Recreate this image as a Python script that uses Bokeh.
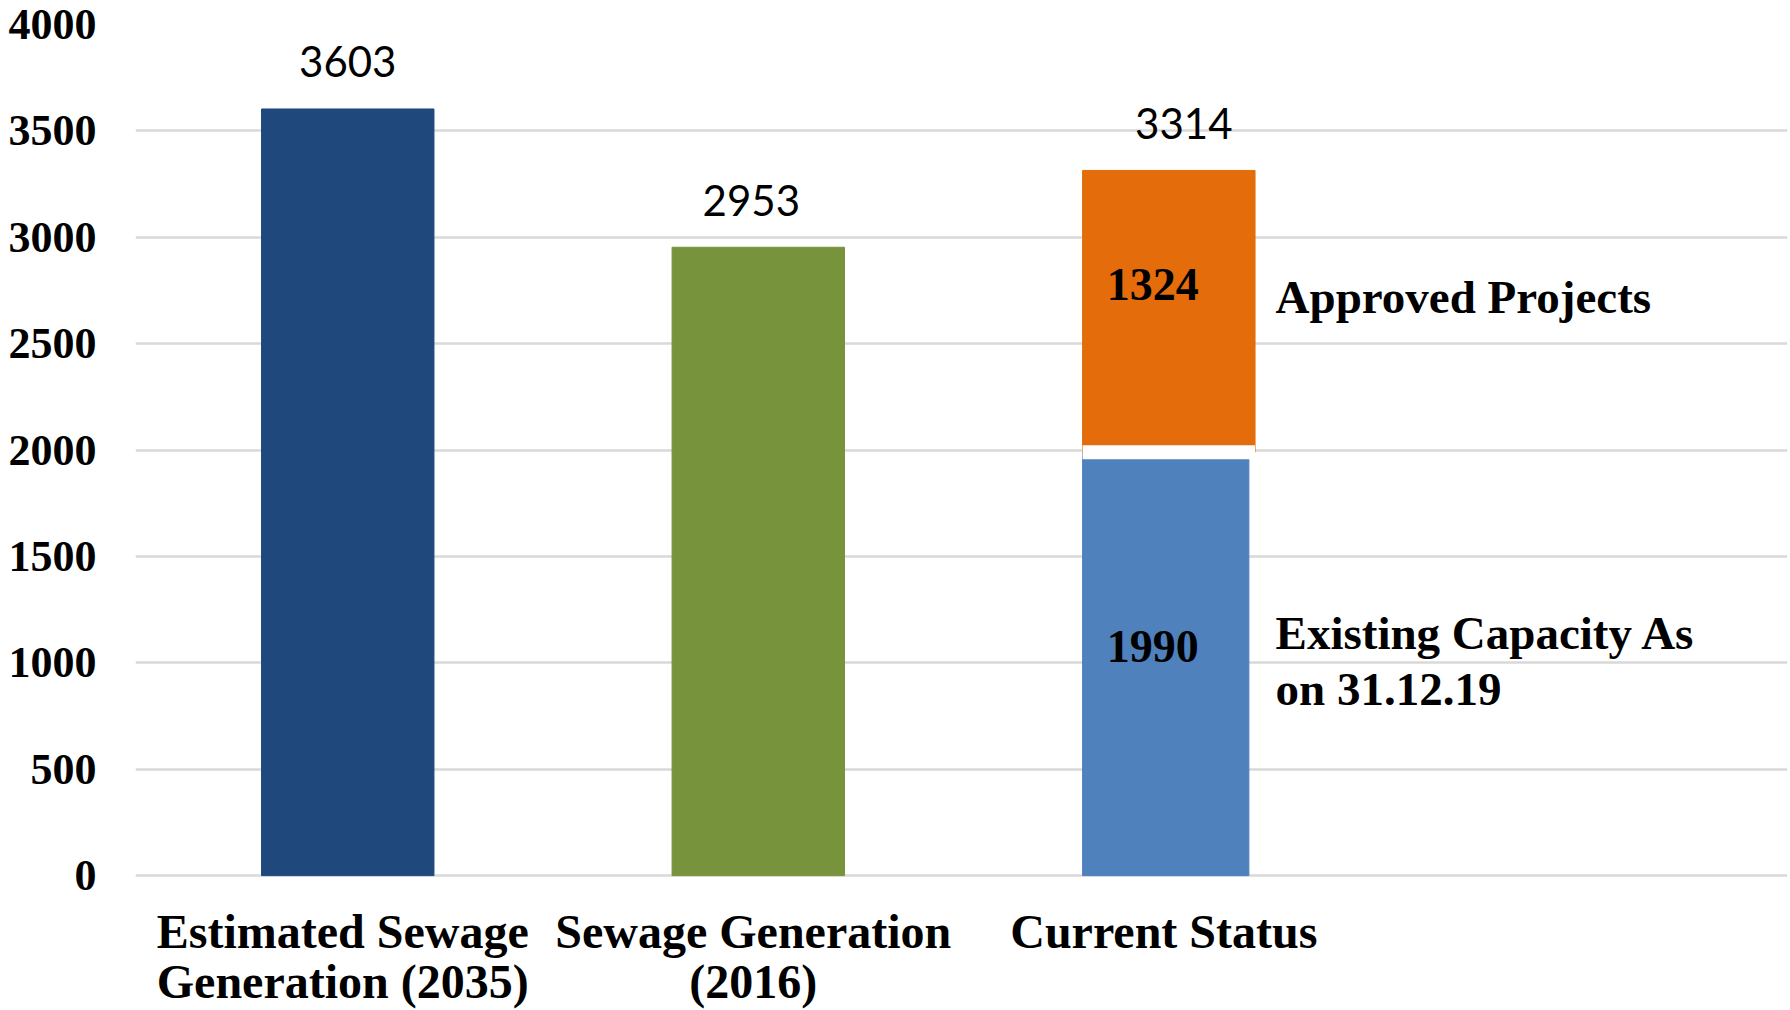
from bokeh.plotting import figure
from bokeh.models import Range1d, FixedTicker
from bokeh.core.properties import value
from bokeh.embed import file_html
from bokeh.resources import INLINE

# ---- data ----
categories = ["Estimated Sewage\nGeneration (2035)", "Sewage Generation\n(2016)", "Current Status"]
single_values = [3603, 2953]          # first two bars
existing_capacity = 1990              # Current Status, lower segment
approved_projects = 1324              # Current Status, upper segment
segment_names = ["Approved Projects", "Existing Capacity As\non 31.12.19"]
y_ticks = [0, 500, 1000, 1500, 2000, 2500, 3000, 3500, 4000]

positions = [0, 1, 2]
current_total = existing_capacity + approved_projects
totals = single_values + [current_total]
cat_line1 = [c.split("\n")[0] for c in categories]
cat_line2 = [c.split("\n")[1] if "\n" in c else "" for c in categories]

SERIF = "Liberation Serif"
BAR_W = 0.42

p = figure(width=1790, height=1010, output_backend="svg", toolbar_location=None,
           x_range=Range1d(-0.517, 3.507), y_range=Range1d(-634, 4000),
           min_border_left=135, min_border_right=3, min_border_top=24, min_border_bottom=0)
p.outline_line_color = None
p.background_fill_color = "white"
p.xgrid.grid_line_color = None
p.ygrid.grid_line_color = "#d9d9d9"
p.ygrid.grid_line_width = 2.5
p.ygrid.ticker = FixedTicker(ticks=y_ticks)
p.xaxis.visible = False

# y axis
p.yaxis.ticker = FixedTicker(ticks=y_ticks)
p.yaxis.axis_line_color = None
p.yaxis.major_tick_line_color = None
p.yaxis.minor_tick_line_color = None
p.yaxis.major_label_text_font = SERIF
p.yaxis.major_label_text_font_style = "bold"
p.yaxis.major_label_text_font_size = "44px"
p.yaxis.major_label_text_color = "black"
p.yaxis.major_label_standoff = 33

# bars
p.vbar(x=[positions[0]], top=[single_values[0]], width=BAR_W, color="#1F497D")
p.vbar(x=[positions[1]], top=[single_values[1]], width=BAR_W, color="#77933C")
p.vbar(x=[positions[2] - 0.0075], bottom=[0], top=[existing_capacity], width=BAR_W - 0.015, color="#4F81BD")
p.vbar(x=[positions[2]], bottom=[existing_capacity], top=[current_total], width=BAR_W, color="#E46C0A")
# white gap between the stacked segments
p.segment(x0=[positions[2] - BAR_W / 2], x1=[positions[2] + BAR_W / 2],
          y0=[existing_capacity], y1=[existing_capacity], line_color="white", line_width=14)

# total labels
p.text(x=positions, y=totals, text=[str(v) for v in totals], x_offset=[0, -7, 15], y_offset=-47,
       text_align="center", text_baseline="alphabetic",
       text_font=value("Lato"), text_font_size="42px", text_color="black")

# segment value labels
mids = [existing_capacity + approved_projects / 2, existing_capacity / 2]
p.text(x=[positions[2]] * 2, y=mids, text=[str(approved_projects), str(existing_capacity)],
       x_offset=-16, y_offset=[-27, -17], text_align="center", text_baseline="middle",
       text_font=value(SERIF), text_font_style="bold", text_font_size="46px", text_color="black")

# segment names to the right
p.text(x=[positions[2] + 0.26] * 2, y=mids, text=segment_names,
       y_offset=[-14, -3], text_align="left", text_baseline="middle", text_line_height=1.07,
       text_font=value(SERIF), text_font_style="bold", text_font_size="47px", text_color="black")

# category labels under the bars
p.text(x=positions, y=[0] * 3, text=cat_line1, x_offset=-5, y_offset=56,
       text_align="center", text_baseline="alphabetic",
       text_font=value(SERIF), text_font_style="bold", text_font_size="48px", text_color="black")
p.text(x=positions, y=[0] * 3, text=cat_line2, x_offset=-5, y_offset=106,
       text_align="center", text_baseline="alphabetic",
       text_font=value(SERIF), text_font_style="bold", text_font_size="48px", text_color="black")

open("out.html", "w").write(file_html(p, INLINE))
